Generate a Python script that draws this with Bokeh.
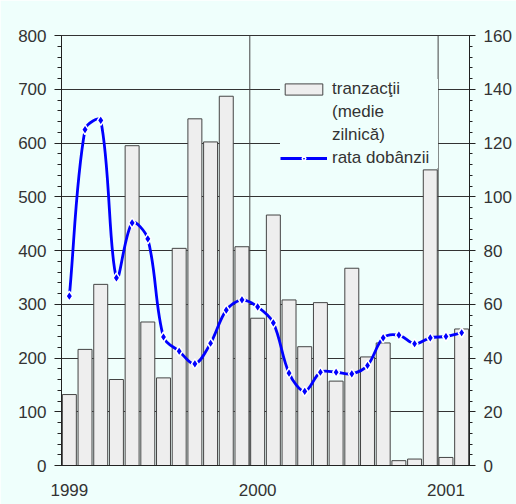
import math
from bokeh.plotting import figure
from bokeh.models import (Range1d, LinearAxis, SingleIntervalTicker, FixedTicker,
                          Span, Legend, LegendItem, Label, ColumnDataSource)
from bokeh.embed import file_html
from bokeh.resources import INLINE

# ---- data (monthly, Jan 1999 .. Feb 2001) ----
months = list(range(26))
tranzactii = [132, 216, 337, 160, 595, 267, 163, 404, 645, 602, 687, 407,
              274, 466, 308, 221, 303, 157, 367, 202, 228, 9, 12, 550,
              15, 254]
rata = [63, 125, 128.4, 69.8, 90.3, 84.3, 47.8, 42.5, 37.8, 45.5, 57.8, 61.6,
        59, 53.1, 34.4, 27.6, 34.7, 34.7, 34.1, 37.2, 47.5, 48.5, 45.3, 47.5,
        48, 49.4]
year_ticks = [0, 12, 24]
year_labels = ["1999", "2000", "2001"]
year_bounds = [11.5, 23.5]

BG = "#effffc"
TXT = "#333333"
FONT = "Liberation Sans"

W, H = 516, 504
BL, BR, BT, BB = 61, 47, 35, 39

p = figure(width=W, height=H, output_backend="svg", toolbar_location=None,
           x_range=Range1d(-0.5, 25.5), y_range=Range1d(0, 800),
           min_border_left=BL, min_border_right=BR, min_border_top=BT,
           min_border_bottom=BB)
p.background_fill_color = BG
p.border_fill_color = BG
p.outline_line_color = "#333333"
p.extra_y_ranges = {"pct": Range1d(0, 160)}

# grid
p.xgrid.grid_line_color = None
p.ygrid.grid_line_color = "#333333"
p.ygrid.grid_line_width = 1

for loc in year_bounds:
    p.add_layout(Span(location=loc, dimension="height", line_color="#444444",
                      line_width=1, level="underlay"))

# left axis
yax = p.yaxis[0]
yax.ticker = SingleIntervalTicker(interval=100, num_minor_ticks=5)
yax.major_tick_out = 7
yax.major_tick_in = 0
yax.minor_tick_out = 4
yax.minor_tick_in = 0
yax.major_label_standoff = 8

# right axis
rax = LinearAxis(y_range_name="pct",
                 ticker=SingleIntervalTicker(interval=20, num_minor_ticks=5))
rax.major_tick_out = 6
rax.major_tick_in = 0
rax.minor_tick_out = 3
rax.minor_tick_in = 0
rax.major_label_standoff = 8
p.add_layout(rax, "right")

# bottom axis
xax = p.xaxis[0]
xax.ticker = FixedTicker(ticks=year_ticks)
xax.major_label_overrides = {t: l for t, l in zip(year_ticks, year_labels)}
xax.major_tick_out = 0
xax.major_tick_in = 0
xax.minor_tick_out = 0
xax.minor_tick_in = 0
xax.major_label_standoff = 18

for ax in (yax, rax, xax):
    ax.axis_line_color = "#222222"
    ax.major_tick_line_color = "#222222"
    ax.minor_tick_line_color = "#222222"
    ax.major_label_text_font = FONT
    ax.major_label_text_font_size = "17px"
    ax.major_label_text_color = TXT

# bars
bars = p.vbar(x=months, top=tranzactii, width=0.89, fill_color="#eeeeee",
              line_color="#444444", line_width=1)

# smooth line: cubic Bezier through the data points, tangents scaled by the
# neighbouring segment lengths in screen space (spreadsheet-style smoothing)
n = len(rata)
kx = (W - BL - BR) / 26.0
ky = (H - BT - BB) / 160.0
def pt(i):
    i = min(max(i, 0), n - 1)
    return months[i], rata[i]
def dist(i, j):
    (xa, ya), (xb, yb) = pt(i), pt(j)
    return math.hypot((xb - xa) * kx, (yb - ya) * ky)
def tangent_factor(seg_len, other_len):
    s = seg_len + other_len
    return (seg_len / s / 3.0) if s > 0 else 0.0
src = dict(x0=[], y0=[], x1=[], y1=[], cx0=[], cy0=[], cx1=[], cy1=[])
for i in range(n - 1):
    (xa, ya), (xb, yb) = pt(i), pt(i + 1)
    (xp, yp), (xn, yn) = pt(i - 1), pt(i + 2)
    d = dist(i, i + 1)
    f0 = tangent_factor(d, dist(i - 1, i))
    f1 = tangent_factor(d, dist(i + 1, i + 2))
    src["x0"].append(xa); src["y0"].append(ya)
    src["x1"].append(xb); src["y1"].append(yb)
    src["cx0"].append(xa + (xb - xp) * f0); src["cy0"].append(ya + (yb - yp) * f0)
    src["cx1"].append(xb - (xn - xa) * f1); src["cy1"].append(yb - (yn - ya) * f1)
curve = p.bezier(x0="x0", y0="y0", x1="x1", y1="y1", cx0="cx0", cy0="cy0",
                 cx1="cx1", cy1="cy1", source=ColumnDataSource(src),
                 y_range_name="pct", line_color="#0000ff", line_width=2.8)
pts = p.scatter(x=months, y=rata, y_range_name="pct", marker="diamond",
                size=10, fill_color="#0000ff", line_color="white",
                line_width=1.5)

# titles of the axes
p.add_layout(Label(x=-0.5, y=800, x_offset=10, y_offset=8, text="miliarde lei",
                   text_font=FONT, text_font_size="17px",
                   text_font_style="italic", text_color=TXT,
                   text_baseline="alphabetic", text_align="left"))
p.add_layout(Label(x=25.5, y=800, x_offset=-6, y_offset=8,
                   text="procente pe an", text_font=FONT,
                   text_font_size="17px", text_font_style="italic",
                   text_color=TXT, text_baseline="alphabetic",
                   text_align="right"))

legend = Legend(items=[
    LegendItem(label="tranzacţii", renderers=[bars]),
    LegendItem(label="(medie", renderers=[]),
    LegendItem(label="zilnică)", renderers=[]),
    LegendItem(label="rata dobânzii", renderers=[curve, pts]),
], location=(219, 297), spacing=3)
legend.background_fill_color = BG
legend.background_fill_alpha = 1
legend.border_line_color = None
legend.glyph_width = 47
legend.glyph_height = 14
legend.label_standoff = 5
legend.padding = 2
legend.label_height = 17
legend.label_width = 106
legend.label_text_font = FONT
legend.label_text_font_size = "17px"
legend.label_text_color = TXT
legend.label_text_baseline = "middle"
p.add_layout(legend)

open("out.html", "w").write(file_html(p, INLINE))
